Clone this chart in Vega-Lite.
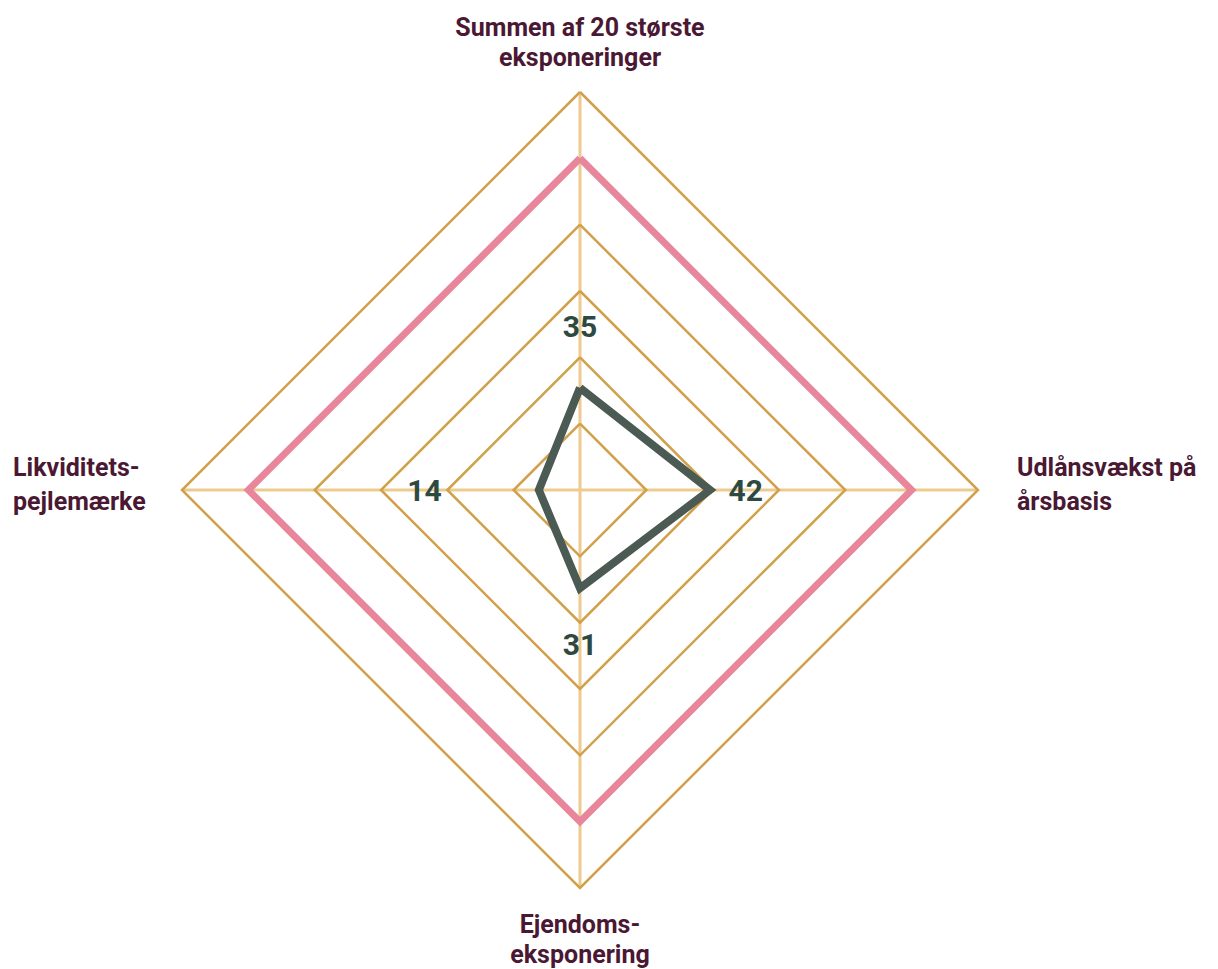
{
  "$schema": "https://vega.github.io/schema/vega-lite/v6.json",
  "width": 1218,
  "height": 969,
  "autosize": "none",
  "padding": 0,
  "background": "white",
  "config": {"view": {"stroke": null}, "font": "Roboto"},
  "datasets": {
    "spokes": [
      {"x": 0, "y": -6, "x2": 0, "y2": 6},
      {"x": -6, "y": 0, "x2": 6, "y2": 0}
    ],
    "grid": [
      {"level": 1, "i": 0, "x": 0, "y": 1}, {"level": 1, "i": 1, "x": 1, "y": 0}, {"level": 1, "i": 2, "x": 0, "y": -1}, {"level": 1, "i": 3, "x": -1, "y": 0}, {"level": 1, "i": 4, "x": 0, "y": 1},
      {"level": 2, "i": 0, "x": 0, "y": 2}, {"level": 2, "i": 1, "x": 2, "y": 0}, {"level": 2, "i": 2, "x": 0, "y": -2}, {"level": 2, "i": 3, "x": -2, "y": 0}, {"level": 2, "i": 4, "x": 0, "y": 2},
      {"level": 3, "i": 0, "x": 0, "y": 3}, {"level": 3, "i": 1, "x": 3, "y": 0}, {"level": 3, "i": 2, "x": 0, "y": -3}, {"level": 3, "i": 3, "x": -3, "y": 0}, {"level": 3, "i": 4, "x": 0, "y": 3},
      {"level": 4, "i": 0, "x": 0, "y": 4}, {"level": 4, "i": 1, "x": 4, "y": 0}, {"level": 4, "i": 2, "x": 0, "y": -4}, {"level": 4, "i": 3, "x": -4, "y": 0}, {"level": 4, "i": 4, "x": 0, "y": 4},
      {"level": 6, "i": 0, "x": 0, "y": 6}, {"level": 6, "i": 1, "x": 6, "y": 0}, {"level": 6, "i": 2, "x": 0, "y": -6}, {"level": 6, "i": 3, "x": -6, "y": 0}, {"level": 6, "i": 4, "x": 0, "y": 6}
    ],
    "limit": [
      {"i": 0, "x": 0, "y": 5}, {"i": 1, "x": 5, "y": 0}, {"i": 2, "x": 0, "y": -5}, {"i": 3, "x": -5, "y": 0}, {"i": 4, "x": 0, "y": 5}
    ],
    "actual": [
      {"i": 0, "axis": "Summen af 20 største eksponeringer", "x": 0, "y": 1.54},
      {"i": 1, "axis": "Udlånsvækst på årsbasis", "x": 1.96, "y": 0},
      {"i": 2, "axis": "Ejendomseksponering", "x": 0, "y": -1.48},
      {"i": 3, "axis": "Likviditetspejlemærke", "x": -0.62, "y": 0},
      {"i": 4, "axis": "Summen af 20 største eksponeringer", "x": 0, "y": 1.54}
    ],
    "values": [
      {"label": "35", "x": 0, "y": 2.435},
      {"label": "42", "x": 2.5, "y": -0.03},
      {"label": "31", "x": 0, "y": -2.352},
      {"label": "14", "x": -2.345, "y": -0.03}
    ],
    "titles": [
      {"label": "Summen af 20 største\neksponeringer", "x": 0, "y": 6.965, "align": "center"},
      {"label": "Ejendoms-\neksponering", "x": 0, "y": -6.558, "align": "center"},
      {"label": "Udlånsvækst på\n\u00a0årsbasis", "x": 6.588, "y": 0.332, "align": "left"},
      {"label": "Likviditets-\npejlemærke", "x": -8.548, "y": 0.332, "align": "left"}
    ]
  },
  "resolve": {"scale": {"x": "shared", "y": "shared"}},
  "layer": [
    {
      "data": {"name": "spokes"},
      "mark": {"type": "rule", "color": "#EDCB8E", "strokeWidth": 3},
      "encoding": {
        "x": {"field": "x", "type": "quantitative", "scale": {"domain": [-8.744, 9.619], "nice": false, "zero": false}, "axis": null},
        "y": {"field": "y", "type": "quantitative", "scale": {"domain": [-7.221, 7.387], "nice": false, "zero": false}, "axis": null},
        "x2": {"field": "x2"},
        "y2": {"field": "y2"}
      }
    },
    {
      "data": {"name": "grid"},
      "mark": {"type": "line", "color": "#D1A04A", "strokeWidth": 2.5, "strokeJoin": "miter"},
      "encoding": {
        "x": {"field": "x", "type": "quantitative", "axis": null},
        "y": {"field": "y", "type": "quantitative", "axis": null},
        "detail": {"field": "level", "type": "nominal"},
        "order": {"field": "i", "type": "quantitative"}
      }
    },
    {
      "data": {"name": "limit"},
      "mark": {"type": "line", "color": "#E8879B", "strokeWidth": 7, "strokeJoin": "miter"},
      "encoding": {
        "x": {"field": "x", "type": "quantitative", "axis": null},
        "y": {"field": "y", "type": "quantitative", "axis": null},
        "order": {"field": "i", "type": "quantitative"}
      }
    },
    {
      "data": {"name": "actual"},
      "mark": {"type": "line", "color": "#4B5A52", "strokeWidth": 8, "strokeJoin": "miter"},
      "encoding": {
        "x": {"field": "x", "type": "quantitative", "axis": null},
        "y": {"field": "y", "type": "quantitative", "axis": null},
        "order": {"field": "i", "type": "quantitative"}
      }
    },
    {
      "data": {"name": "values"},
      "mark": {"type": "text", "color": "#2E4A40", "fontSize": 30, "fontWeight": "bold", "align": "center", "baseline": "middle", "font": "Roboto"},
      "encoding": {
        "x": {"field": "x", "type": "quantitative", "axis": null},
        "y": {"field": "y", "type": "quantitative", "axis": null},
        "text": {"field": "label", "type": "nominal"}
      }
    },
    {
      "data": {"name": "titles"},
      "transform": [{"filter": "datum.align === 'center'"}],
      "mark": {"type": "text", "color": "#4A1833", "fontSize": 25, "fontWeight": "bold", "align": "center", "baseline": "middle", "lineBreak": "\n", "lineHeight": 30, "font": "Roboto"},
      "encoding": {
        "x": {"field": "x", "type": "quantitative", "axis": null},
        "y": {"field": "y", "type": "quantitative", "axis": null},
        "text": {"field": "label", "type": "nominal"}
      }
    },
    {
      "data": {"name": "titles"},
      "transform": [{"filter": "datum.align === 'left'"}],
      "mark": {"type": "text", "color": "#4A1833", "fontSize": 25, "fontWeight": "bold", "align": "left", "baseline": "middle", "lineBreak": "\n", "lineHeight": 34, "font": "Roboto"},
      "encoding": {
        "x": {"field": "x", "type": "quantitative", "axis": null},
        "y": {"field": "y", "type": "quantitative", "axis": null},
        "text": {"field": "label", "type": "nominal"}
      }
    }
  ]
}
